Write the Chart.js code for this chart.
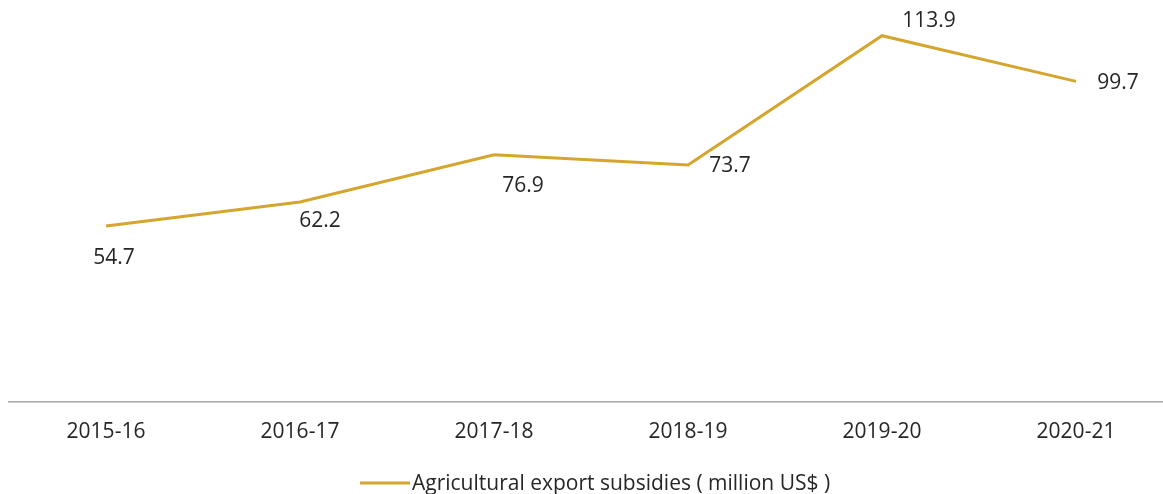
<!DOCTYPE html>
<html>
<head>
<meta charset="utf-8">
<script src="https://cdn.jsdelivr.net/npm/chart.js@4"></script>
<style>
  html, body { margin: 0; padding: 0; background: #fff; overflow: hidden; }
  #wrap { width: 1175px; height: 494px; }
</style>
</head>
<body>
<div id="wrap"><canvas id="myChart" width="1175" height="494"></canvas></div>
<script>
var years = ["2015-16", "2016-17", "2017-18", "2018-19", "2019-20", "2020-21"];
var subsidies = [54.7, 62.2, 76.9, 73.7, 113.9, 99.7];
var seriesName = "Agricultural export subsidies ( million US$ )";

var lineColor = "#D5A62E";
var textColor = "#262626";
var fontFamily = "'Open Sans', sans-serif";
var fontSize = 21;

// where each value label sits relative to its point
var labelOffsets = [[8, 32], [20, 19], [29, 31], [42, 1], [47, -15], [42, 2]];

var valueLabels = {
  id: "valueLabels",
  afterDatasetsDraw(chart) {
    var ctx = chart.ctx;
    var meta = chart.getDatasetMeta(0);
    ctx.save();
    ctx.font = fontSize + "px " + fontFamily;
    ctx.fillStyle = textColor;
    ctx.textAlign = "center";
    ctx.textBaseline = "middle";
    meta.data.forEach((pt, i) => {
      var off = labelOffsets[i];
      ctx.fillText(subsidies[i].toFixed(1), pt.x + off[0], pt.y + off[1]);
    });
    ctx.restore();
  }
};

var bottomLegend = {
  id: "bottomLegend",
  afterDraw(chart) {
    var ctx = chart.ctx;
    ctx.save();
    ctx.strokeStyle = lineColor;
    ctx.lineWidth = 3;
    ctx.beginPath();
    ctx.moveTo(360, 483);
    ctx.lineTo(410, 483);
    ctx.stroke();
    ctx.font = fontSize + "px " + fontFamily;
    ctx.fillStyle = textColor;
    ctx.textAlign = "left";
    ctx.textBaseline = "middle";
    ctx.fillText(seriesName, 412, 484);
    ctx.restore();
  }
};

new Chart("myChart", {
  type: "line",
  data: {
    labels: years,
    datasets: [{
      label: seriesName,
      data: subsidies,
      borderColor: lineColor,
      borderWidth: 3,
      pointRadius: 0,
      tension: 0,
      fill: false
    }]
  },
  options: {
    responsive: false,
    animation: false,
    layout: { padding: { left: 9, right: 2, top: 0, bottom: 0 } },
    plugins: {
      legend: { display: false },
      tooltip: { enabled: false }
    },
    scales: {
      x: {
        offset: true,
        grid: { display: false, drawTicks: false },
        border: { display: true, color: "#A6A6A6", width: 1.5 },
        ticks: { color: textColor, font: { family: fontFamily, size: fontSize }, padding: 17, maxRotation: 0 },
        afterFit: s => { s.height = 92; }
      },
      y: {
        display: false,
        min: 0,
        max: 125
      }
    }
  },
  plugins: [valueLabels, bottomLegend]
});
</script>
</body>
</html>
